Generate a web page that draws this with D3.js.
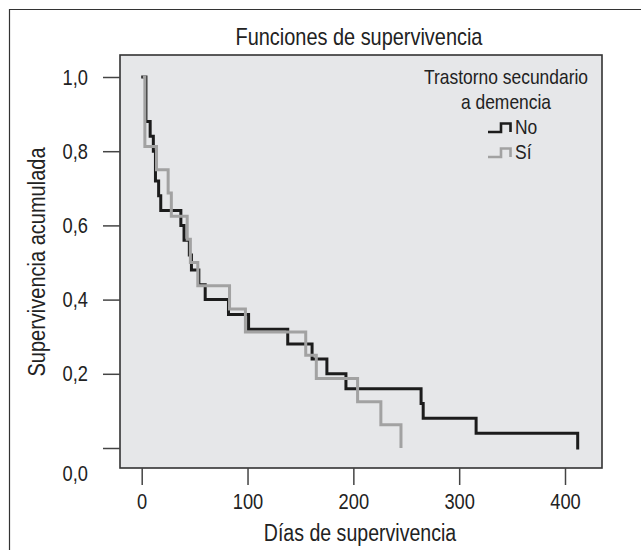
<!DOCTYPE html>
<html>
<head>
<meta charset="utf-8">
<script src="https://cdn.jsdelivr.net/npm/d3@7"></script>
<style>
  html, body { margin: 0; padding: 0; background: #fff; }
  svg { display: block; }
  text { font-family: "Liberation Sans", Arial, sans-serif; fill: #222; }
</style>
</head>
<body>
<div id="chart"></div>
<script>
// ---- data ----
const title = "Funciones de supervivencia";
const xLabel = "Días de supervivencia";
const yLabel = "Supervivencia acumulada";
const legendTitle = ["Trastorno secundario", "a demencia"];
const seriesNames = ["No", "Sí"];

const noTimes = [1, 4, 8, 11, 13, 16, 18, 37, 40, 45, 47, 54, 60, 82, 101, 138, 161, 175, 193, 264, 266, 316, 412];
const noSurv  = [1, 0.88, 0.84, 0.80, 0.72, 0.68, 0.64, 0.60, 0.56, 0.52, 0.48, 0.44, 0.40, 0.36, 0.32, 0.28, 0.24, 0.20, 0.16, 0.12, 0.08, 0.04, 0];

const siTimes = [1, 3, 14, 25, 28, 43, 46, 53, 83, 98, 155, 165, 204, 226, 245];
const siSurv  = [1, 0.8125, 0.75, 0.6875, 0.625, 0.5625, 0.5, 0.4375, 0.375, 0.3125, 0.25, 0.1875, 0.125, 0.0625, 0];

const xTicks = [0, 100, 200, 300, 400];
const yTicks = [0, 0.2, 0.4, 0.6, 0.8, 1.0];

// ---- layout ----
const W = 641, H = 550;
const panel = { left: 120, top: 55, right: 602, bottom: 468 };
const NARROW = 0.83;

// compress glyphs horizontally (condensed look)
function narrow(sel, k) {
  sel.each(function () {
    const L = this.getComputedTextLength();
    this.setAttribute("textLength", (L * k).toFixed(2));
    this.setAttribute("lengthAdjust", "spacingAndGlyphs");
  });
}

const svg = d3.select("#chart").append("svg").attr("width", W).attr("height", H);

// outer frame (top & left visible)
svg.append("path").attr("d", `M9.5,${H} V9.5 H${W}`).attr("fill", "none").attr("stroke", "#333").attr("stroke-width", 1.2);

const x = d3.scaleLinear().domain([0, 400]).range([141.7, 565]);
const y = d3.scaleLinear().domain([0, 1]).range([448, 77]);

// panel
svg.append("rect")
  .attr("x", panel.left).attr("y", panel.top)
  .attr("width", panel.right - panel.left).attr("height", panel.bottom - panel.top)
  .attr("fill", "#e6e7e9").attr("stroke", "#333").attr("stroke-width", 1.6);

// title
svg.append("text").attr("x", 359).attr("y", 45).attr("text-anchor", "middle")
  .style("font-size", "24px").text(title).call(narrow, NARROW);

// y axis
const fmt = d => d3.format(".1f")(d).replace(".", ",");
const yAxis = svg.append("g").attr("transform", `translate(${panel.left},0)`)
  .call(d3.axisLeft(y).tickValues(yTicks).tickSize(17).tickPadding(15).tickFormat(fmt));
yAxis.select(".domain").remove();
yAxis.selectAll(".tick line").attr("stroke", "#444").attr("stroke-width", 1.5);
yAxis.selectAll(".tick text").style("font-size", "22px").attr("fill", "#222")
  .attr("font-family", null).call(narrow, NARROW);
yAxis.selectAll(".tick text").filter(d => d === 0).attr("y", 25);

// x axis
const xAxis = svg.append("g").attr("transform", `translate(0,${panel.bottom})`)
  .call(d3.axisBottom(x).tickValues(xTicks).tickSize(17).tickPadding(8).tickFormat(d3.format("d")));
xAxis.select(".domain").remove();
xAxis.selectAll(".tick line").attr("stroke", "#444").attr("stroke-width", 1.5);
xAxis.selectAll(".tick text").style("font-size", "22px").attr("fill", "#222")
  .attr("font-family", null).call(narrow, NARROW);

// axis labels
svg.append("text").attr("x", 360).attr("y", 541).attr("text-anchor", "middle")
  .style("font-size", "23px").text(xLabel).call(narrow, 0.85);
svg.append("text").attr("transform", "translate(45,262) rotate(-90)").attr("text-anchor", "middle")
  .style("font-size", "23px").text(yLabel).call(narrow, 0.87);

// curves
const line = d3.line().x(d => x(d[0])).y(d => y(d[1])).curve(d3.curveStepAfter);
const noData = noTimes.map((t, i) => [t, noSurv[i]]);
const siData = siTimes.map((t, i) => [t, siSurv[i]]);
const colors = ["#1c1c1c", "#a2a2a2"];

svg.append("path").attr("d", line(noData)).attr("fill", "none")
  .attr("stroke", colors[0]).attr("stroke-width", 3).attr("stroke-linejoin", "miter").attr("stroke-linecap", "square");
svg.append("path").attr("d", line(siData)).attr("fill", "none")
  .attr("stroke", colors[1]).attr("stroke-width", 3).attr("stroke-linejoin", "miter").attr("stroke-linecap", "butt");

// legend
const lg = svg.append("g").attr("transform", "translate(506,0)");
legendTitle.forEach((t, i) => {
  lg.append("text").attr("x", 0).attr("y", 84 + i * 25).attr("text-anchor", "middle")
    .style("font-size", "21px").text(t).call(narrow, NARROW);
});
seriesNames.forEach((name, i) => {
  const g = lg.append("g").attr("transform", `translate(-18,${132 + i * 25})`);
  g.append("path").attr("d", "M0,0 H13 V-8.5 H22.5 V0").attr("fill", "none")
    .attr("stroke", colors[i]).attr("stroke-width", 2.6);
  g.append("text").attr("x", 27).attr("y", 2).style("font-size", "21px").text(name).call(narrow, NARROW);
});
</script>
</body>
</html>
